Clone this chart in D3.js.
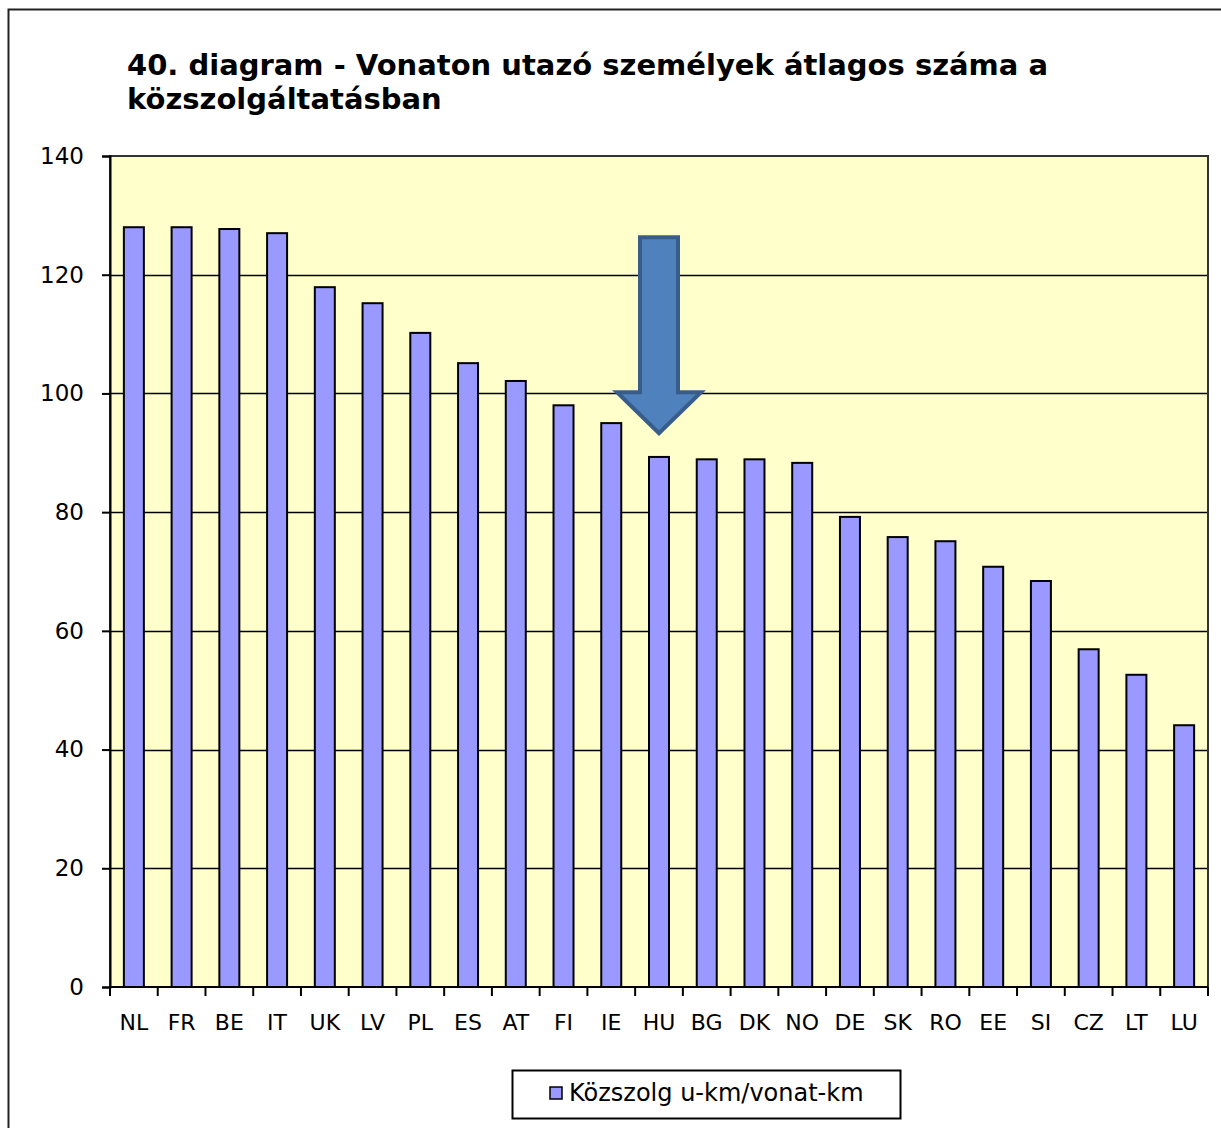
<!DOCTYPE html>
<html>
<head>
<meta charset="utf-8">
<script src="https://cdn.jsdelivr.net/npm/d3@7"></script>
<style>
  body { margin: 0; background: #fff; }
  svg text { font-family: "DejaVu Sans", Verdana, sans-serif; fill: #000; }
</style>
</head>
<body>
<div id="chart"></div>
<script>
// data
const countries = ['NL', 'FR', 'BE', 'IT', 'UK', 'LV', 'PL', 'ES', 'AT', 'FI', 'IE', 'HU',
  'BG', 'DK', 'NO', 'DE', 'SK', 'RO', 'EE', 'SI', 'CZ', 'LT', 'LU'];
const values = [128.0, 128.0, 127.7, 127.0, 117.9, 115.2, 110.2, 105.1, 102.1, 98.0, 95.0, 89.3,
  88.9, 88.9, 88.3, 79.2, 75.8, 75.1, 70.8, 68.4, 56.9, 52.6, 44.1];
const yTicks = [0, 20, 40, 60, 80, 100, 120, 140];
const titleLines = ['40. diagram - Vonaton utazó személyek átlagos száma a', 'közszolgáltatásban'];
const seriesName = 'Közszolg u-km/vonat-km';
// arrow annotation pointing at HU (values on the y axis)
const arrowTarget = 'HU';
const arrowTop = 126.3, arrowNeck = 100.2, arrowTip = 93.3;

const W = 1221, H = 1128;
const margin = { top: 156, right: 13, bottom: 141, left: 110 };
const width = W - margin.left - margin.right,
  height = H - margin.top - margin.bottom;

const svg = d3.select('#chart').append('svg')
  .attr('width', W)
  .attr('height', H);

// outer chart border
svg.append('rect')
  .attr('x', 8.5).attr('y', 9.5)
  .attr('width', W + 20).attr('height', H + 20)
  .attr('fill', '#fff')
  .attr('stroke', '#222')
  .attr('stroke-width', 2);

// title
svg.append('text')
  .attr('x', 127)
  .attr('y', 75)
  .style('font-size', '29px')
  .style('font-weight', 'bold')
  .selectAll('tspan')
  .data(titleLines)
  .join('tspan')
  .attr('x', 127)
  .attr('dy', (d, i) => i === 0 ? 0 : 34)
  .text(d => d);

const g = svg.append('g')
  .attr('transform', `translate(${margin.left},${margin.top})`);

const xOuter = d3.scaleBand().domain(countries).range([0, width]);
const y = d3.scaleLinear().domain([0, 140]).range([height, 0]);

g.append('rect')
  .attr('width', width).attr('height', height)
  .attr('fill', '#ffffcc');

// gridlines
g.selectAll('.grid')
  .data(yTicks.filter(d => d > 0 && d < 140))
  .join('line')
  .attr('x1', 0).attr('x2', width)
  .attr('y1', d => Math.round(y(d)) + 0.5).attr('y2', d => Math.round(y(d)) + 0.5)
  .attr('stroke', '#000')
  .attr('stroke-width', 1.5);

// bars
g.selectAll('.bar')
  .data(values)
  .join('rect')
  .attr('class', 'bar')
  .attr('x', (d, i) => xOuter(countries[i]) + xOuter.bandwidth() / 2 - 10)
  .attr('width', 20)
  .attr('y', d => y(d))
  .attr('height', d => height - y(d))
  .attr('fill', '#9999ff')
  .attr('stroke', '#000')
  .attr('stroke-width', 2);

// plot border
g.append('rect')
  .attr('width', width).attr('height', height)
  .attr('fill', 'none')
  .attr('stroke', '#333')
  .attr('stroke-width', 2);

// y axis
const yAxis = g.append('g')
  .call(d3.axisLeft(y).tickValues(yTicks).tickSize(8).tickPadding(18));
yAxis.select('.domain').attr('stroke', '#000').attr('stroke-width', 2);
yAxis.selectAll('.tick line').attr('stroke', '#000').attr('stroke-width', 2);
yAxis.selectAll('.tick text').style('font-size', '23px');

// x axis with ticks between categories
const xAxis = g.append('g')
  .attr('transform', `translate(0,${height})`);
xAxis.append('line')
  .attr('x1', 0).attr('x2', width)
  .attr('stroke', '#000').attr('stroke-width', 2);
xAxis.selectAll('.xtick')
  .data(countries.concat(['end']))
  .join('line')
  .attr('x1', (d, i) => i * xOuter.step())
  .attr('x2', (d, i) => i * xOuter.step())
  .attr('y1', 0).attr('y2', 9)
  .attr('stroke', '#000').attr('stroke-width', 2);
xAxis.selectAll('.xlabel')
  .data(countries)
  .join('text')
  .attr('x', d => xOuter(d) + xOuter.bandwidth() / 2)
  .attr('y', 43)
  .attr('text-anchor', 'middle')
  .style('font-size', '22px')
  .text(d => d);

// arrow pointing at HU
const cx = xOuter(arrowTarget) + xOuter.bandwidth() / 2;
const shaftHalf = 19, headHalf = 42;
const arrowPts = [
  [cx - shaftHalf, y(arrowTop)],
  [cx + shaftHalf, y(arrowTop)],
  [cx + shaftHalf, y(arrowNeck)],
  [cx + headHalf, y(arrowNeck)],
  [cx, y(arrowTip)],
  [cx - headHalf, y(arrowNeck)],
  [cx - shaftHalf, y(arrowNeck)]
];
g.append('path')
  .attr('d', d3.line()(arrowPts) + 'Z')
  .attr('fill', '#4f81bd')
  .attr('stroke', '#385d8a')
  .attr('stroke-width', 4)
  .attr('stroke-linejoin', 'miter');

// legend
const legend = svg.append('g').attr('transform', 'translate(512,1070)');
legend.append('rect')
  .attr('x', 0.5).attr('y', 0.5)
  .attr('width', 388).attr('height', 48)
  .attr('fill', '#fff')
  .attr('stroke', '#000')
  .attr('stroke-width', 2);
legend.append('rect')
  .attr('x', 38).attr('y', 17)
  .attr('width', 12).attr('height', 12)
  .attr('fill', '#9999ff')
  .attr('stroke', '#000')
  .attr('stroke-width', 1.5);
legend.append('text')
  .attr('x', 57).attr('y', 31)
  .style('font-size', '24px')
  .text(seriesName);
</script>
</body>
</html>
